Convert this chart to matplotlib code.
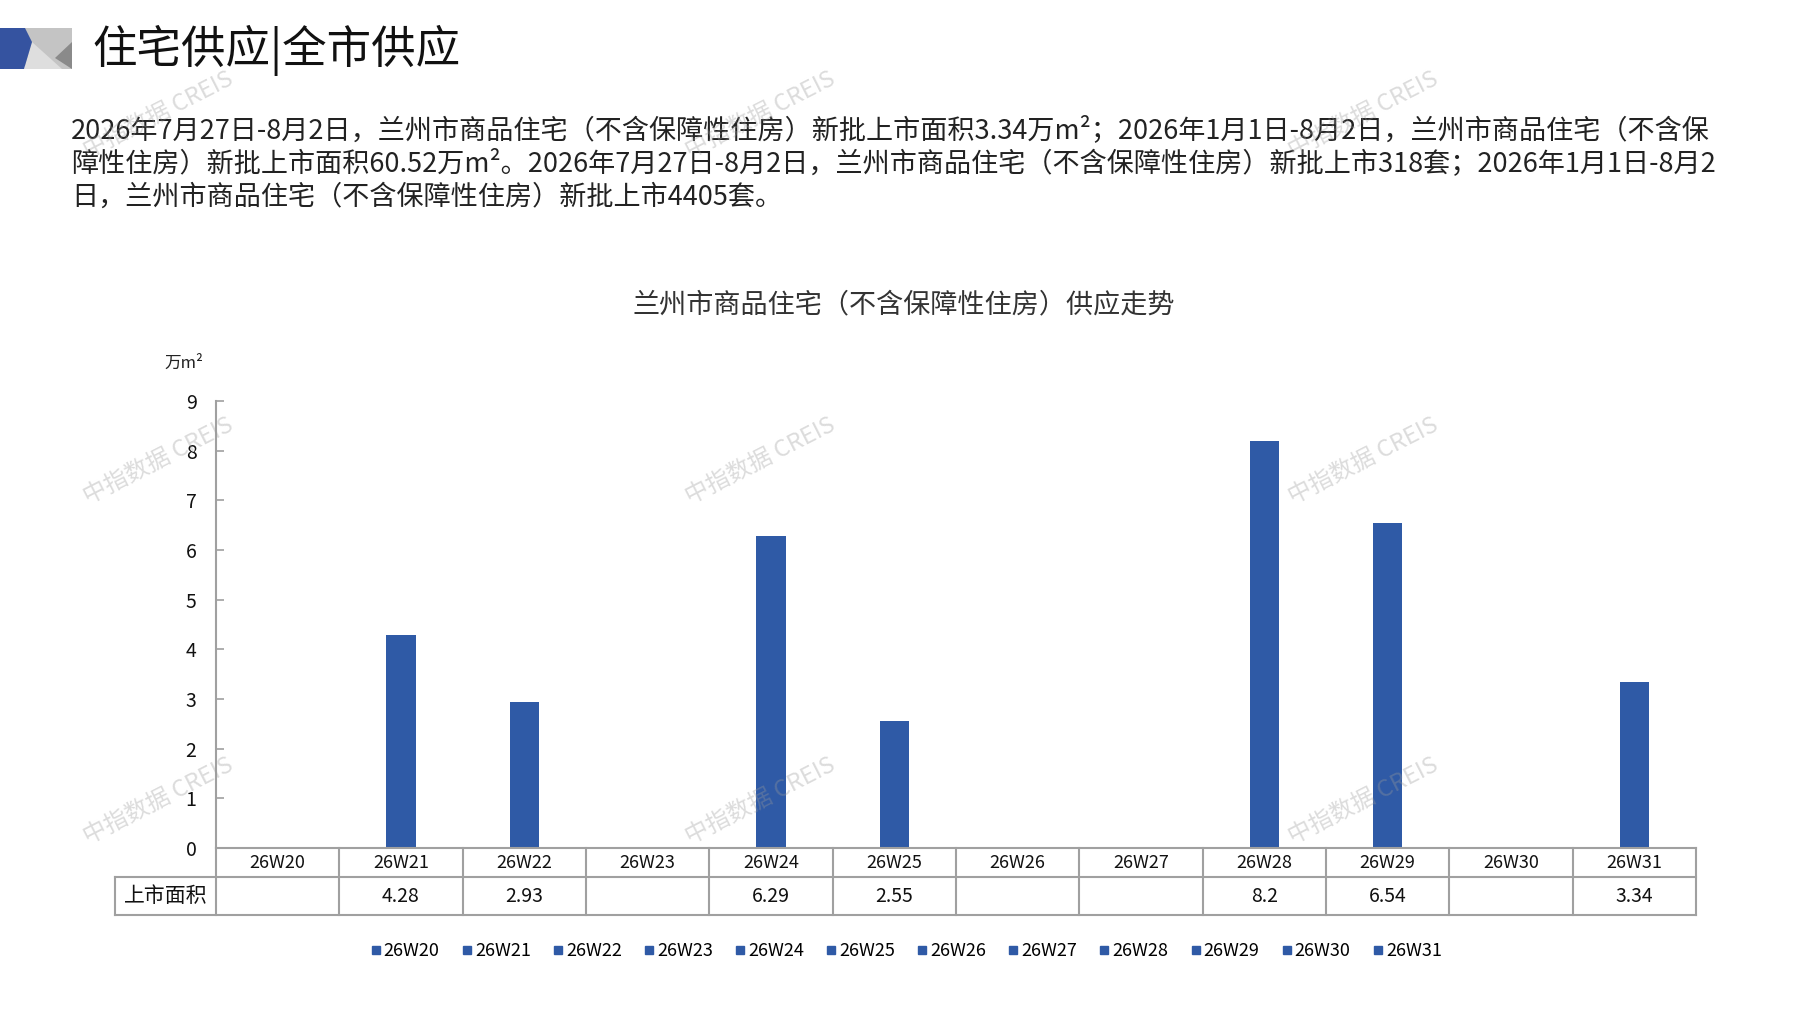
import matplotlib as mpl
mpl.use('Agg')
import matplotlib.pyplot as plt
from matplotlib.patches import Polygon
from matplotlib.lines import Line2D

plt.rcParams['font.family'] = ['Noto Sans CJK SC', 'DejaVu Sans']

# data
weeks = ['26W20', '26W21', '26W22', '26W23', '26W24', '26W25',
         '26W26', '26W27', '26W28', '26W29', '26W30', '26W31']
area = [None, 4.28, 2.93, None, 6.29, 2.55, None, None, 8.2, 6.54, None, 3.34]
row_label = '上市面积'
y_ticks = [0, 1, 2, 3, 4, 5, 6, 7, 8, 9]

header = '住宅供应|全市供应'
chart_title = '兰州市商品住宅（不含保障性住房）供应走势'
unit_label = '万m²'
para_lines = [
    '2026年7月27日-8月2日，兰州市商品住宅（不含保障性住房）新批上市面积3.34万m²；2026年1月1日-8月2日，兰州市商品住宅（不含保',
    '障性住房）新批上市面积60.52万m²。2026年7月27日-8月2日，兰州市商品住宅（不含保障性住房）新批上市318套；2026年1月1日-8月2',
    '日，兰州市商品住宅（不含保障性住房）新批上市4405套。',
]
watermark = '中指数据 CREIS'

W, H = 1797, 1010
bar_color = '#2F5AA6'
grid_gray = '#A0A0A0'


def fx(px):
    return px / W


def fy(py):
    return 1 - py / H


fig = plt.figure(figsize=(W / 100, H / 100), dpi=100)

# logo block at top left
logo = [
    ([(25, 28), (72, 28), (72, 69), (25, 69)], '#C4C4C4'),
    ([(32, 42), (62, 69), (24, 69)], '#DEDEDE'),
    ([(55, 58), (72, 42), (72, 69)], '#8A8A8A'),
    ([(0, 28), (25, 28), (32, 42), (24, 69), (0, 69)], '#3553A0'),
]
for pts, c in logo:
    fig.patches.append(Polygon([(fx(a), fy(b)) for a, b in pts], closed=True,
                               facecolor=c, edgecolor='none',
                               transform=fig.transFigure))

fig.text(fx(92), fy(50), header, fontsize=32, va='center', ha='left', color='#111111')

for i, line in enumerate(para_lines):
    fig.text(fx(71), fy(130 + i * 33.5), line, fontsize=19.5, va='center',
             ha='left', color='#222222')

fig.text(fx(904), fy(305), chart_title, fontsize=19.5, ha='center', va='center',
         color='#333333')
fig.text(fx(184), fy(363), unit_label, fontsize=12, ha='center', va='center',
         color='#222222')

# main axes
ax = fig.add_axes([fx(216), fy(848), fx(1696) - fx(216), fy(401) - fy(848)])
x = list(range(len(weeks)))
vals = [v if v is not None else 0 for v in area]
ax.bar(x, vals, width=0.24, color=bar_color, zorder=2)
ax.set_xlim(-0.5, len(weeks) - 0.5)
ax.set_ylim(0, 9)
ax.set_yticks(y_ticks)
ax.set_xticks([])
ax.tick_params(axis='y', direction='in', length=6, width=1.2, color=grid_gray,
               labelsize=14, pad=14, labelcolor='#111111')
for s in ['top', 'right', 'bottom']:
    ax.spines[s].set_visible(False)
ax.spines['left'].set_color(grid_gray)
ax.spines['left'].set_linewidth(1.5)

# data table under the axis
tr = ax.get_xaxis_transform()
r1 = -29 / 447
r2 = -67 / 447
left_x = -0.5 - 101 / (1480 / 12)
n = len(weeks)
lk = dict(color=grid_gray, lw=1.5, transform=tr, clip_on=False)
ax.plot([-0.5, n - 0.5], [0, 0], **lk)
ax.plot([left_x, n - 0.5], [r1, r1], **lk)
ax.plot([left_x, n - 0.5], [r2, r2], **lk)
ax.plot([left_x, left_x], [r1, r2], **lk)
for k in range(n + 1):
    ax.plot([k - 0.5, k - 0.5], [0, r2], **lk)

for i, w in enumerate(weeks):
    ax.text(i, r1 / 2, w, transform=tr, ha='center', va='center', fontsize=13,
            color='#111111')
    if area[i] is not None:
        ax.text(i, (r1 + r2) / 2, f'{area[i]:g}', transform=tr, ha='center',
                va='center', fontsize=14, color='#111111')
ax.text((left_x - 0.5) / 2, (r1 + r2) / 2, row_label, transform=tr, ha='center',
        va='center', fontsize=15, color='#111111')

# legend
handles = [Line2D([], [], marker='s', color=bar_color, linestyle='none',
                  markersize=6) for _ in weeks]
fig.legend(handles, weeks, ncol=n, loc='center',
           bbox_to_anchor=(fx(906), fy(951)), frameon=False, fontsize=13,
           handlelength=0.6, handletextpad=0.15, columnspacing=1.2)

# watermarks
for wy in [115, 461, 801]:
    for wx in [158, 760, 1363]:
        fig.text(fx(wx), fy(wy), watermark, fontsize=17, rotation=27,
                 ha='center', va='center', color='#9A9A9A', alpha=0.35,
                 zorder=10, rotation_mode='anchor')

fig.savefig('out.png', dpi=100)
